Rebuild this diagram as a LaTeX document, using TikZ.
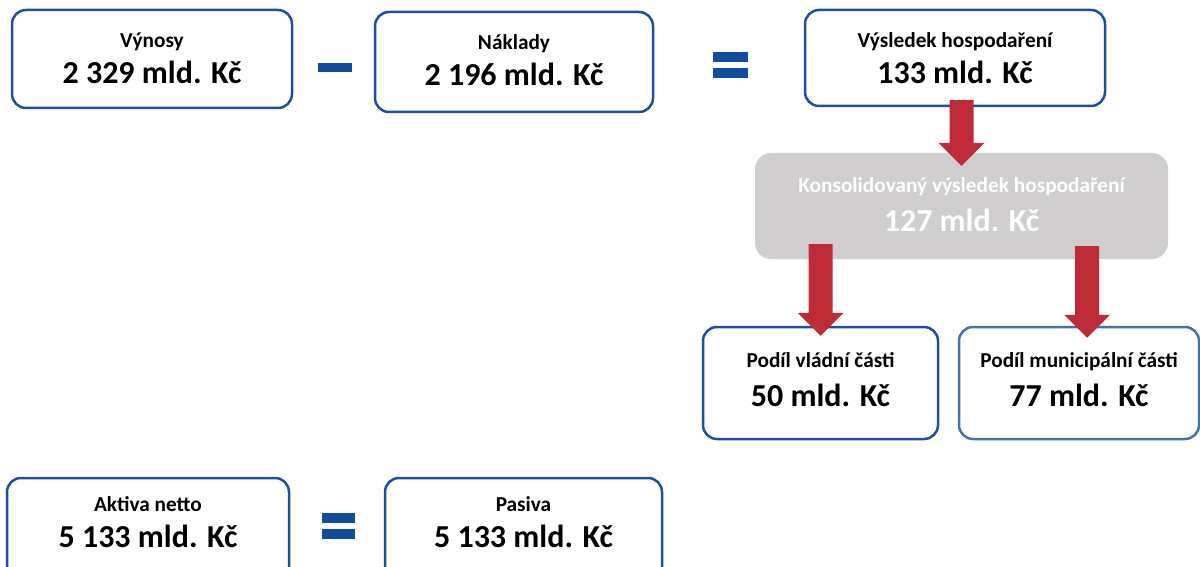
\documentclass[tikz,border=0pt]{standalone}
\usepackage{fontspec}
\setmainfont{Carlito}
\usetikzlibrary{calc}
\definecolor{boxblue}{HTML}{1F4E9B}
\definecolor{munblue}{HTML}{4472A6}
\definecolor{signblue}{HTML}{0F4C9B}
\definecolor{arrowred}{HTML}{BF2A37}
\definecolor{konsgray}{HTML}{D0CECE}
\tikzset{
  box/.style={draw=boxblue, line width=2.5pt, rounded corners=14pt, fill=white, inner sep=0pt},
  graybox/.style={fill=konsgray, rounded corners=16pt, inner sep=0pt},
  lbl/.style={font=\fontsize{21.3}{25}\selectfont\bfseries, anchor=base, inner sep=0pt},
  big/.style={font=\fontsize{32}{38}\selectfont\bfseries, anchor=base, inner sep=0pt},
  sign/.style={fill=signblue, inner sep=0pt, minimum width=35pt, minimum height=10pt},
  redarrow/.style={fill=arrowred},
}
\newcommand{\blockarrow}[2]{%
  \fill[redarrow] ($(#1)+(-12,0)$) -- ($(#1)+(12,0)$) -- ($(#2)+(12,-23)$) -- ($(#2)+(23,-23)$)
    -- (#2) -- ($(#2)+(-23,-23)$) -- ($(#2)+(-12,-23)$) -- cycle;}
\begin{document}
\begin{tikzpicture}[x=1pt,y=-1pt]
\useasboundingbox (0,0) rectangle (1200,567);
\clip (0,0) rectangle (1200,567);
% top row
\node[box, minimum width=280pt, minimum height=98pt] (vyn) at (152,59) {};
\node[lbl] (vynl) at ($(vyn.north)+(0,39)$) {Výnosy};
\node[big] (vynv) at ($(vyn.north)+(0,75)$) {2 329 mld. Kč};
\node[sign, minimum width=34pt, minimum height=9pt] (minus) at (335,68) {};
\node[box, minimum width=278pt, minimum height=100pt] (nak) at (514,62) {};
\node[lbl] (nakl) at ($(nak.north)+(0,39)$) {Náklady};
\node[big] (nakv) at ($(nak.north)+(0,75)$) {2 196 mld. Kč};
\node[sign] (eq1a) at (730.5,57) {};
\node[sign] (eq1b) at (730.5,73) {};
\node[box, minimum width=300pt, minimum height=96pt] (vys) at (955,58) {};
\node[lbl] (vysl) at ($(vys.north)+(0,39)$) {Výsledek hospodaření};
\node[big] (vysv) at ($(vys.north)+(0,75)$) {133 mld. Kč};
% consolidated
\node[graybox, minimum width=413pt, minimum height=106pt] (kons) at (961.5,206) {};
\node[lbl, text=white] (konsl) at ($(kons.north)+(0,40)$) {Konsolidovaný výsledek hospodaření};
\node[big, text=white] (konsv) at ($(kons.north)+(0,79)$) {127 mld. Kč};
% shares
\node[box, minimum width=235pt, minimum height=112pt] (vlad) at (820.5,383) {};
\node[lbl] (vladl) at ($(vlad.north)+(0,42)$) {Podíl vládní části};
\node[big] (vladv) at ($(vlad.north)+(0,81)$) {50 mld. Kč};
\node[box, draw=munblue, minimum width=240pt, minimum height=112pt] (mun) at (1079,383) {};
\node[lbl] (munl) at ($(mun.north)+(0,42)$) {Podíl municipální části};
\node[big] (munv) at ($(mun.north)+(0,81)$) {77 mld. Kč};
% arrows
\coordinate (a1s) at ($(vys.south -| kons.north)+(0,-7)$);
\coordinate (a1e) at ($(kons.north)+(0,13)$);
\blockarrow{a1s}{a1e}
\coordinate (a2s) at ($(kons.south -| vlad.north)+(0,-15)$);
\coordinate (a2e) at ($(vlad.north)+(0,10)$);
\blockarrow{a2s}{a2e}
\coordinate (a3s) at ($(kons.south)+(125.5,-13)$);
\coordinate (a3e) at ($(mun.north)+(8,12)$);
\blockarrow{a3s}{a3e}
% bottom row
\node[box, minimum width=282pt, minimum height=122pt] (akt) at (148,539) {};
\node[lbl] (aktl) at ($(akt.north)+(0,35)$) {Aktiva netto};
\node[big] (aktv) at ($(akt.north)+(0,71)$) {5 133 mld. Kč};
\node[sign, minimum width=33pt] (eq2a) at (338.5,518) {};
\node[sign, minimum width=33pt] (eq2b) at (338.5,534) {};
\node[box, minimum width=277pt, minimum height=122pt] (pas) at (523.5,539) {};
\node[lbl] (pasl) at ($(pas.north)+(0,35)$) {Pasiva};
\node[big] (pasv) at ($(pas.north)+(0,71)$) {5 133 mld. Kč};
\end{tikzpicture}
\end{document}
